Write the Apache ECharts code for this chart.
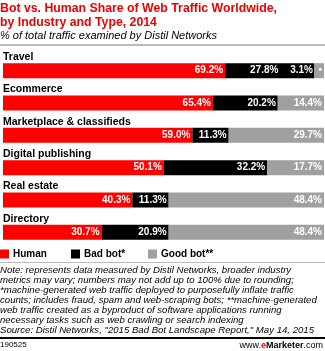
<!DOCTYPE html>
<html><head><meta charset="utf-8">
<script src="https://cdn.jsdelivr.net/npm/echarts@6/dist/echarts.min.js"></script>
<style>html,body{margin:0;padding:0;background:#fff}#c{width:325px;height:351px}</style>
</head><body><div id="c"></div>
<script>
var categories = ['Travel', 'Ecommerce', 'Marketplace & classifieds', 'Digital publishing', 'Real estate', 'Directory'];
var human = [69.2, 65.4, 59.0, 50.1, 40.3, 30.7];
var badBot = [27.8, 20.2, 11.3, 32.2, 11.3, 20.9];
var goodBot = [3.1, 14.4, 29.7, 17.7, 48.4, 48.4];
var seriesNames = ['Human', 'Bad bot*', 'Good bot**'];
var colors = ['#ff0000', '#000000', '#a0a0a0'];

var FF = 'Liberation Sans';
var chart = echarts.init(document.getElementById('c'), null, {renderer: 'canvas'});

function lbl() {
  return {
    show: true, position: 'insideRight', distance: 2,
    color: '#fff', fontFamily: FF, fontWeight: 'bold', fontSize: 10,
    formatter: function (p) { return p.value.toFixed(1) + '%'; }
  };
}
function items(arr, special) {
  return arr.map(function (v, i) {
    var o = {value: v};
    if (special && special[i]) o.label = special[i];
    return o;
  });
}

var noteLines = [
  'Note: represents data measured by Distil Networks, broader industry',
  'metrics may vary; numbers may not add up to 100% due to rounding;',
  '*machine-generated web traffic deployed to purposefully inflate traffic',
  'counts; includes fraud, spam and web-scraping bots; **machine-generated',
  'web traffic created as a byproduct of software applications running',
  'necessary tasks such as web crawling or search indexing',
  'Source: Distil Networks, "2015 Bad Bot Landscape Report," May 14, 2015'
];

var option = {
  animation: false,
  grid: {left: 0, right: 1, top: 54.5, height: 194, containLabel: false},
  xAxis: {type: 'value', min: 0, max: 100, show: false},
  yAxis: {
    type: 'category', data: categories, inverse: true,
    axisLine: {show: false}, axisTick: {show: false}, splitLine: {show: false},
    axisLabel: {
      inside: true, margin: 0, align: 'left', verticalAlign: 'bottom',
      padding: [0, 0, 8, 0],
      color: '#000', fontFamily: FF, fontWeight: 'bold', fontSize: 10.5
    },
    z: 10
  },
  legend: [0, 1, 2].map(function (i) {
    return {
      data: [seriesNames[i]], left: [0, 71, 148][i], top: 249,
      itemWidth: 9, itemHeight: 9, itemGap: 4, padding: 0,
      icon: 'rect',
      textStyle: {color: '#000', fontFamily: FF, fontWeight: 'bold', fontSize: 10, padding: [0, 0, 0, -1]}
    };
  }),
  series: [
    {name: seriesNames[0], type: 'bar', stack: 's', data: items(human), barWidth: 15, itemStyle: {color: colors[0]}, label: lbl()},
    {name: seriesNames[1], type: 'bar', stack: 's', data: items(badBot, {0: {offset: [-34, 0]}}), barWidth: 15, itemStyle: {color: colors[1]}, label: lbl()},
    {name: seriesNames[2], type: 'bar', stack: 's', data: items(goodBot, {0: {formatter: '{c}%  \u2022'}}), barWidth: 15, itemStyle: {color: colors[2]}, label: lbl()}
  ],
  graphic: [
    {type: 'text', left: 0, top: 2, style: {text: 'Bot vs. Human Share of Web Traffic Worldwide,\nby Industry and Type, 2014', fill: '#ee0000', fontFamily: FF, fontWeight: 'bold', fontSize: 12.3, lineHeight: 14}},
    {type: 'text', left: 0, top: 30, style: {text: '% of total traffic examined by Distil Networks', fill: '#000', fontFamily: FF, fontStyle: 'italic', fontSize: 11}},
    {type: 'rect', shape: {x: 0, y: 44, width: 325, height: 2}, style: {fill: '#bbbbbb'}},
    {type: 'rect', shape: {x: 0, y: 262, width: 325, height: 1}, style: {fill: '#bbbbbb'}},
    {type: 'text', left: 0, top: 265, style: {text: noteLines.join('\n'), fill: '#000', fontFamily: FF, fontStyle: 'italic', fontSize: 9.6, lineHeight: 10.1}},
    {type: 'rect', shape: {x: 0, y: 337, width: 325, height: 2}, style: {fill: '#000'}},
    {type: 'text', left: 0, top: 341, style: {text: '190525', fill: '#000', fontFamily: FF, fontSize: 8}},
    {type: 'text', right: 2, top: 341, style: {text: '{a|www.}{b|e}{c|Marketer}{a|.com}', rich: {
      a: {fill: '#000', fontFamily: FF, fontSize: 9}, b: {fill: '#ee0000', fontFamily: FF, fontWeight: 'bold', fontSize: 9}, c: {fill: '#000', fontFamily: FF, fontWeight: 'bold', fontSize: 9}}}}
  ]
};
chart.setOption(option);
</script></body></html>
